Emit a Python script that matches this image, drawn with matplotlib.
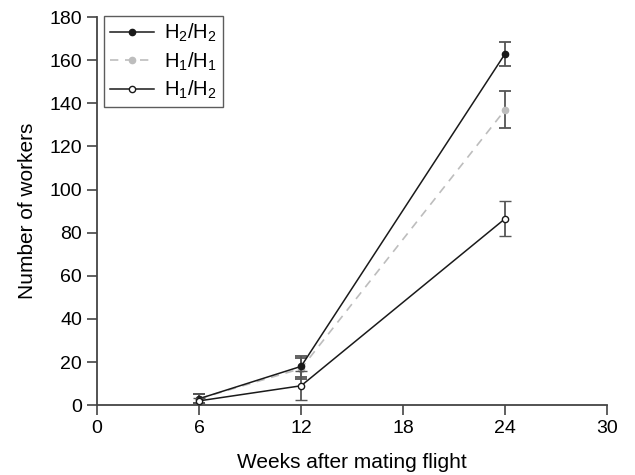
import numpy as np
import matplotlib
matplotlib.use('Agg')
import matplotlib.pyplot as plt

plt.rcParams['font.family'] = ['Liberation Sans', 'DejaVu Sans']
plt.rcParams['mathtext.fontset'] = 'custom'
plt.rcParams['mathtext.rm'] = 'Liberation Sans'
plt.rcParams['mathtext.it'] = 'Liberation Sans'

weeks = [6, 12, 24]

h22_mean = [3, 18, 163]
h22_err = [2, 5, 5.6]

h11_mean = [3, 17, 137]
h11_err = [2, 5, 8.5]

h12_mean = [2, 9, 86.5]
h12_err = [1.5, 6.8, 8]

x_ticks = [0, 6, 12, 18, 24, 30]
y_ticks = [0, 20, 40, 60, 80, 100, 120, 140, 160, 180]


def main():
    fig = plt.figure(figsize=(6.35, 4.75), dpi=100)
    ax = fig.add_axes([0.153, 0.147, 0.803, 0.817])

    ecol = '#555555'
    ax.errorbar(weeks, h11_mean, yerr=h11_err, color='#bdbdbd', linestyle='--', lw=1.2,
                dashes=(5, 4), marker='o', ms=4.5, mfc='#bdbdbd', mec='#bdbdbd',
                ecolor=ecol, elinewidth=1.3, capsize=4, capthick=1.3,
                label='H$_1$/H$_1$', zorder=2)
    ax.errorbar(weeks, h22_mean, yerr=h22_err, color='#1a1a1a', lw=1.1,
                marker='o', ms=4.5, mfc='#1a1a1a', mec='#1a1a1a',
                ecolor=ecol, elinewidth=1.3, capsize=4, capthick=1.3,
                label='H$_2$/H$_2$', zorder=3)
    ax.errorbar(weeks, h12_mean, yerr=h12_err, color='#1a1a1a', lw=1.1,
                marker='o', ms=4.5, mfc='white', mec='#1a1a1a', mew=1,
                ecolor=ecol, elinewidth=1.3, capsize=4, capthick=1.3,
                label='H$_1$/H$_2$', zorder=4)

    ax.set_xlim(0, 30)
    ax.set_ylim(0, 180)
    ax.set_xticks(x_ticks)
    ax.set_yticks(y_ticks)
    ax.tick_params(direction='out', length=7, width=1.2, color='#444444',
                   labelsize=14, pad=4)
    for side in ['top', 'right']:
        ax.spines[side].set_visible(False)
    for side in ['left', 'bottom']:
        ax.spines[side].set_color('#444444')
        ax.spines[side].set_linewidth(1.3)

    ax.set_xlabel('Weeks after mating flight', fontsize=15, labelpad=11)
    ax.set_ylabel('Number of workers', fontsize=15, labelpad=9)

    handles, labels = ax.get_legend_handles_labels()
    order = [1, 0, 2]
    leg = ax.legend([handles[i][0] for i in order], [labels[i] for i in order],
                    loc='upper left', bbox_to_anchor=(0.013, 1.003), fontsize=14.5,
                    frameon=True, fancybox=False, edgecolor='#333333',
                    handlelength=2.2, handletextpad=0.5, borderpad=0.3,
                    labelspacing=0.3, borderaxespad=0)
    leg.get_frame().set_linewidth(1.0)

    fig.savefig('out.png', dpi=100)


if __name__ == '__main__':
    main()
